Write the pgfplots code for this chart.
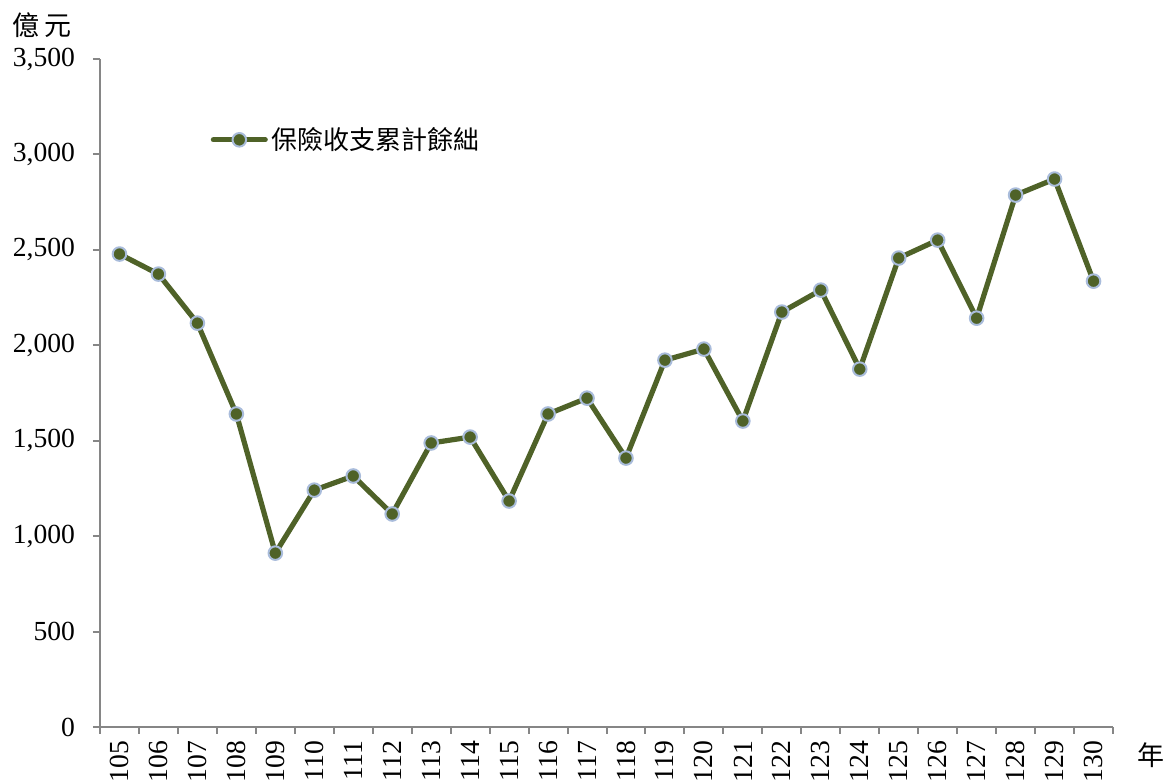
\documentclass[border=0pt]{standalone}
\usepackage{fontspec}
\setmainfont{Liberation Serif}
\newfontfamily\cjk{Noto Sans CJK TC}
\usepackage{pgfplots}
\pgfplotsset{compat=1.18}

\definecolor{olive}{HTML}{4F6228}
\definecolor{ringblue}{HTML}{A9BCDB}
\definecolor{axisgray}{HTML}{868686}

\begin{document}
\begin{tikzpicture}
\path[use as bounding box] (-50pt,-26.5pt) rectangle (534.5pt,363.5pt);
\begin{axis}[
  at={(0,0)}, anchor=south west,
  scale only axis,
  width=506.5pt, height=334pt,
  xmin=104.5, xmax=130.5,
  ymin=0, ymax=3500,
  axis lines*=left,
  axis line style={axisgray, line width=1pt},
  every tick/.style={axisgray, line width=1pt},
  tick align=outside,
  xtick={105,...,130},
  major x tick style={draw=none},
  minor xtick={104.5,105.5,...,130.5},
  minor tick length=3.5pt,
  major tick length=3.5pt,
  ytick={0,500,...,3500},
  scaled y ticks=false,
  /pgf/number format/assume math mode=true,
  yticklabel style={font=\fontsize{13.8pt}{15pt}\selectfont, xshift=-5.5pt,
    /pgf/number format/.cd, fixed, 1000 sep={,}},
  xticklabel style={font=\fontsize{13.8pt}{15pt}\selectfont, rotate=90, anchor=east, yshift=0pt},
  x tick label style={/pgf/number format/.cd, fixed, 1000 sep={}},
  legend style={at={(0.109,0.879)}, anchor=west, draw=none, fill=none,
    font=\cjk\fontsize{13pt}{15pt}\selectfont, inner sep=0pt},
  legend cell align=left,
  legend image code/.code={
    \draw[olive, line width=2.5pt, line cap=round] (0pt,0pt) -- (26pt,0pt);
    \fill[olive, draw=ringblue, line width=1pt] (13pt,0pt) circle (3.4pt);
  },
  clip=false,
]
\addplot[olive, line width=2.6pt, line join=round,
  mark=*, mark size=3.4pt,
  mark options={fill=olive, draw=ringblue, line width=1pt}]
  coordinates {
  (105,2478) (106,2373) (107,2116) (108,1640) (109,911)
  (110,1241) (111,1315) (112,1116) (113,1488) (114,1519)
  (115,1184) (116,1640) (117,1723) (118,1409) (119,1922)
  (120,1980) (121,1603) (122,2174) (123,2289) (124,1875)
  (125,2457) (126,2551) (127,2142) (128,2787) (129,2871)
  (130,2336)
  };
\addlegendentry{保險收支累計餘絀}
\node[font=\cjk\fontsize{13.5pt}{15pt}\selectfont] at ([xshift=-29pt,yshift=17pt]rel axis cs:0,1) {億\,元};
\node[font=\cjk\fontsize{13.5pt}{15pt}\selectfont] at ([xshift=19pt,yshift=-14pt]rel axis cs:1,0) {年};
\end{axis}
\end{tikzpicture}
\end{document}
